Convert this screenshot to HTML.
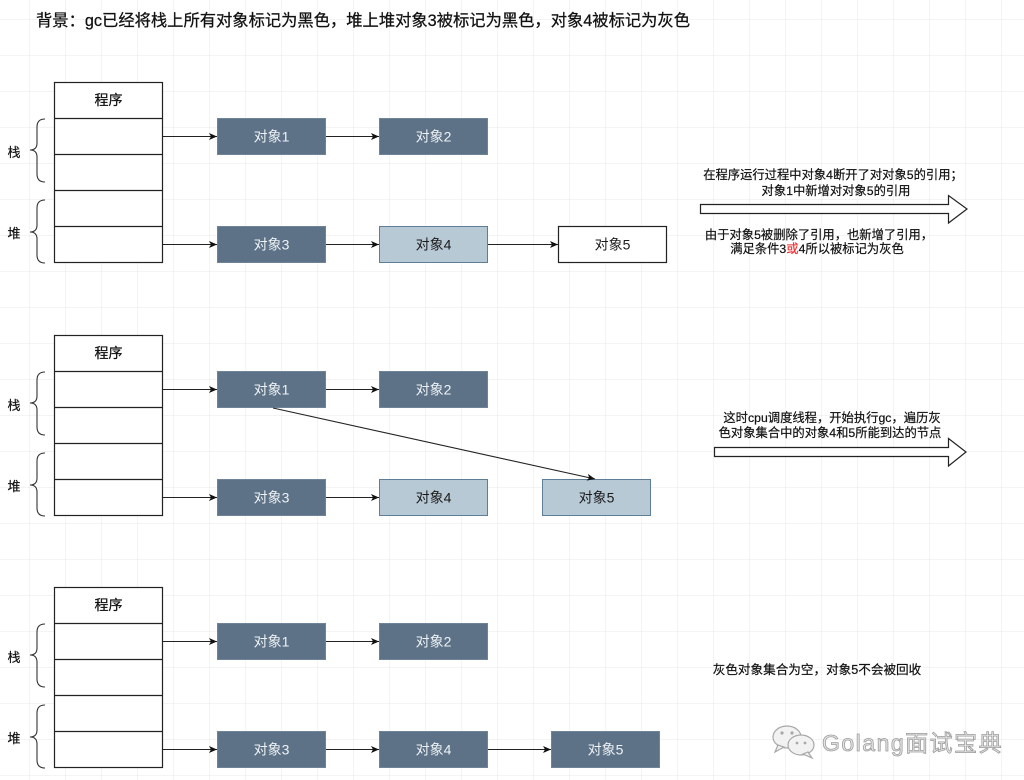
<!DOCTYPE html>
<html>
<head>
<meta charset="utf-8">
<style>
html,body{margin:0;padding:0;background:#fff;}
svg{display:block;}
text{font-family:"Liberation Sans","Noto Sans CJK SC",sans-serif;}
</style>
</head>
<body>
<svg width="1024" height="780" viewBox="0 0 1024 780" xmlns="http://www.w3.org/2000/svg">
<defs>
<pattern id="grid" x="29" y="19" width="36" height="36" patternUnits="userSpaceOnUse">
<path d="M0 0 H36 M0 0 V36" fill="none" stroke="#e9e9ec" stroke-width="1"/>
</pattern>
<marker id="ah" markerWidth="8" markerHeight="8" refX="8" refY="4" orient="auto" markerUnits="userSpaceOnUse">
<path d="M0,0.5 L8,4 L0,7.5 L2,4 Z" fill="#111"/>
</marker>
<g id="prog">
<rect x="54.5" y="82.5" width="108" height="180" fill="#fff" stroke="#222" stroke-width="1.2"/>
<path d="M54.5 118.5H162.5M54.5 154.5H162.5M54.5 190.5H162.5M54.5 226.5H162.5" stroke="#222" stroke-width="1.2"/>
<text x="108.5" y="105" font-size="14" text-anchor="middle" fill="#111" stroke="#111" stroke-width="0.25">程序</text>
<path d="M45,119 Q37,119 37,127 L37,143 Q37,150 30,150 Q37,150 37,157 L37,174 Q37,182 45,182" fill="none" stroke="#333" stroke-width="1.1"/>
<path d="M45,200 Q37,200 37,208 L37,225 Q37,232 30,232 Q37,232 37,239 L37,255 Q37,263 45,263" fill="none" stroke="#333" stroke-width="1.1"/>
<text x="14" y="157" font-size="13" text-anchor="middle" fill="#111" stroke="#111" stroke-width="0.2">栈</text>
<text x="14" y="238" font-size="13" text-anchor="middle" fill="#111" stroke="#111" stroke-width="0.2">堆</text>
<line x1="163" y1="136.5" x2="217" y2="136.5" stroke="#222" stroke-width="1.1" marker-end="url(#ah)"/>
<line x1="163" y1="244.5" x2="217" y2="244.5" stroke="#222" stroke-width="1.1" marker-end="url(#ah)"/>
<line x1="326" y1="136.5" x2="379" y2="136.5" stroke="#222" stroke-width="1.1" marker-end="url(#ah)"/>
<line x1="326" y1="244.5" x2="379" y2="244.5" stroke="#222" stroke-width="1.1" marker-end="url(#ah)"/>
<rect x="217.5" y="118.5" width="108" height="36" fill="#5d7287" stroke="#6f8498" stroke-width="1"/>
<text x="271.5" y="141.5" font-size="14" text-anchor="middle" fill="#eef2f6">对象1</text>
<rect x="379.5" y="118.5" width="108" height="36" fill="#5d7287" stroke="#6f8498" stroke-width="1"/>
<text x="433.5" y="141.5" font-size="14" text-anchor="middle" fill="#eef2f6">对象2</text>
<rect x="217.5" y="226.5" width="108" height="36" fill="#5d7287" stroke="#6f8498" stroke-width="1"/>
<text x="271.5" y="249.5" font-size="14" text-anchor="middle" fill="#eef2f6">对象3</text>
</g>
</defs>

<rect x="0" y="0" width="1024" height="780" fill="#fff"/>
<rect x="0" y="0" width="1024" height="780" fill="url(#grid)"/>

<text x="36" y="26" font-size="16.3" fill="#111" stroke="#111" stroke-width="0.25">背景：gc已经将栈上所有对象标记为黑色，堆上堆对象3被标记为黑色，对象4被标记为灰色</text>

<!-- Section 1 -->
<use href="#prog"/>
<rect x="379.5" y="226.5" width="108" height="36" fill="#b8c9d6" stroke="#5f7d97" stroke-width="1"/>
<text x="433.5" y="249.5" font-size="14" text-anchor="middle" fill="#1a1a1a">对象4</text>
<line x1="488" y1="244.5" x2="558" y2="244.5" stroke="#222" stroke-width="1.1" marker-end="url(#ah)"/>
<rect x="558.5" y="226.5" width="108" height="36" fill="#fff" stroke="#222" stroke-width="1.2"/>
<text x="612.5" y="249.5" font-size="14" text-anchor="middle" fill="#1a1a1a">对象5</text>

<g stroke="#111" stroke-width="0.2">
<text x="833" y="179" font-size="12.3" text-anchor="middle" fill="#111">在程序运行过程中对象4断开了对对象5的引用；</text>
<text x="836" y="195" font-size="12.3" text-anchor="middle" fill="#111">对象1中新增对对象5的引用</text>
</g>
<path d="M700.5,204.5 H948.5 V195.5 L967,209 L948.5,223 V213.5 H700.5 Z" fill="#fff" stroke="#222" stroke-width="1.2" stroke-linejoin="miter"/>
<g stroke="#111" stroke-width="0.2">
<text x="819" y="239" font-size="12.3" text-anchor="middle" fill="#111">由于对象5被删除了引用，也新增了引用，</text>
<text x="817" y="253" font-size="12.3" text-anchor="middle" fill="#111">满足条件3<tspan fill="#e33" stroke="#e33">或</tspan>4所以被标记为灰色</text>
</g>

<!-- Section 2 -->
<use href="#prog" y="253"/>
<rect x="379.5" y="479.5" width="108" height="36" fill="#b8c9d6" stroke="#5f7d97" stroke-width="1"/>
<text x="433.5" y="502.5" font-size="14" text-anchor="middle" fill="#1a1a1a">对象4</text>
<rect x="542.5" y="479.5" width="108" height="36" fill="#b8c9d6" stroke="#5f7d97" stroke-width="1"/>
<text x="596.5" y="502.5" font-size="14" text-anchor="middle" fill="#1a1a1a">对象5</text>
<line x1="273" y1="408" x2="595" y2="479" stroke="#222" stroke-width="1.1" marker-end="url(#ah)"/>

<g stroke="#111" stroke-width="0.2">
<text x="832" y="422" font-size="12.3" text-anchor="middle" fill="#111">这时cpu调度线程，开始执行gc，遍历灰</text>
<text x="830" y="437" font-size="12.3" text-anchor="middle" fill="#111">色对象集合中的对象4和5所能到达的节点</text>
</g>
<path d="M714.5,447.5 H948.5 V438.5 L966,452 L948.5,466 V456.5 H714.5 Z" fill="#fff" stroke="#222" stroke-width="1.2"/>

<!-- Section 3 -->
<use href="#prog" y="505"/>
<rect x="379.5" y="731.5" width="108" height="36" fill="#5d7287" stroke="#6f8498" stroke-width="1"/>
<text x="433.5" y="754.5" font-size="14" text-anchor="middle" fill="#eef2f6">对象4</text>
<line x1="488" y1="749.5" x2="551" y2="749.5" stroke="#222" stroke-width="1.1" marker-end="url(#ah)"/>
<rect x="551.5" y="731.5" width="108" height="36" fill="#5d7287" stroke="#6f8498" stroke-width="1"/>
<text x="605.5" y="754.5" font-size="14" text-anchor="middle" fill="#eef2f6">对象5</text>

<text x="817" y="674" font-size="12.6" text-anchor="middle" fill="#111" stroke="#111" stroke-width="0.2">灰色对象集合为空，对象5不会被回收</text>

<!-- watermark -->
<g fill="#f2f2f2" stroke="#a8a8a8" stroke-width="1.2">
<ellipse cx="787" cy="737" rx="14" ry="11"/>
<path d="M778,745 L775,752 L784,747 Z"/>
<ellipse cx="801" cy="745" rx="13" ry="10"/>
<path d="M808,752 L812,758 L803,754 Z"/>
</g>
<g fill="#a8a8a8">
<circle cx="782" cy="733" r="1.6"/><circle cx="792" cy="733" r="1.6"/>
<circle cx="797" cy="743" r="1.4"/><circle cx="805" cy="743" r="1.4"/>
</g>
<text x="822" y="751" font-size="23" letter-spacing="1.5" fill="#e6e6e6" stroke="#9c9c9c" stroke-width="0.8">Golang面试宝典</text>
</svg>
</body>
</html>
